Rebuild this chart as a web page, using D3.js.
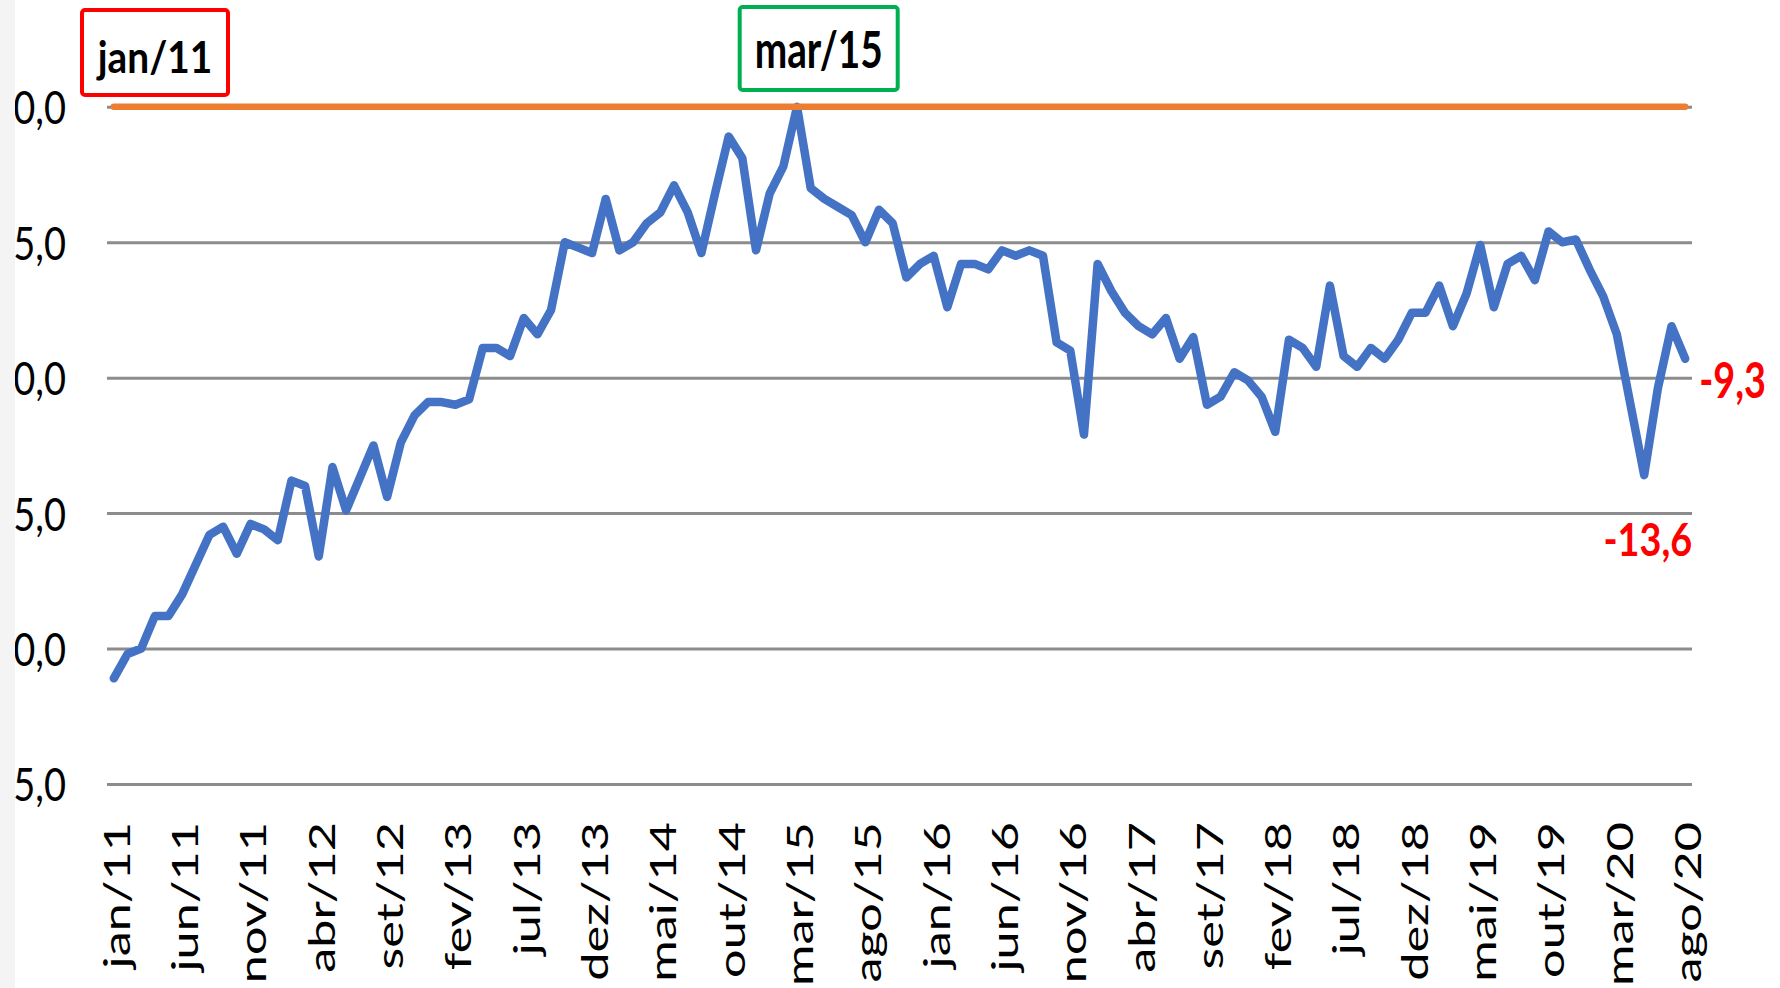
<!DOCTYPE html>
<html>
  <head>
    <meta charset="utf-8" />
    <script src="https://d3js.org/d3.v7.min.js"></script>
    <style>
      body { margin: 0; background: #ffffff; }
      svg { display: block; }
    </style>
  </head>

  <body>
    <svg width="1780" height="988"></svg>

    <script type="text/javascript">
      // month names and years used for the category axis
      var monthNames = ["jan", "fev", "mar", "abr", "mai", "jun", "jul", "ago", "set", "out", "nov", "dez"];
      var years = ["11", "12", "13", "14", "15", "16", "17", "18", "19", "20"];

      // series values, jan/11 .. ago/20
      var values = [
        -21.1, -20.2, -20.0, -18.8, -18.8, -18.0, -16.9, -15.8, -15.5, -16.5, -15.4, -15.6,
        -16.0, -13.8, -14.0, -16.6, -13.3, -14.9, -13.7, -12.5, -14.4, -12.4, -11.4, -10.9,
        -10.9, -11.0, -10.8, -8.9, -8.9, -9.2, -7.8, -8.4, -7.5, -5.0, -5.2, -5.4,
        -3.4, -5.3, -5.0, -4.3, -3.9, -2.9, -3.9, -5.4, -3.2, -1.1, -1.9, -5.3,
        -3.2, -2.2, 0.0, -3.0, -3.4, -3.7, -4.0, -5.0, -3.8, -4.3, -6.3, -5.8,
        -5.5, -7.4, -5.8, -5.8, -6.0, -5.3, -5.5, -5.3, -5.5, -8.7, -9.0, -12.1,
        -5.8, -6.8, -7.6, -8.1, -8.4, -7.8, -9.3, -8.5, -11.0, -10.7, -9.8, -10.1,
        -10.7, -12.0, -8.6, -8.9, -9.6, -6.6, -9.2, -9.6, -8.9, -9.3, -8.6, -7.6,
        -7.6, -6.6, -8.1, -6.9, -5.1, -7.4, -5.8, -5.5, -6.4, -4.6, -5.0, -4.9,
        -6.0, -7.0, -8.4, -11.0, -13.6, -10.4, -8.1, -9.3
      ];

      var refLevel = 0; // orange reference line

      var yTicks = [0, -5, -10, -15, -20, -25];
      var tickLabels = [
        "jan/11", "jun/11", "nov/11", "abr/12", "set/12", "fev/13", "jul/13", "dez/13",
        "mai/14", "out/14", "mar/15", "ago/15", "jan/16", "jun/16", "nov/16", "abr/17",
        "set/17", "fev/18", "jul/18", "dez/18", "mai/19", "out/19", "mar/20", "ago/20"
      ];
      var startLabel = "jan/11";
      var peakLabel = "mar/15";
      var troughFrom = "jan/20"; // red label marks the low of the last stretch

      var categories = [];
      years.forEach(function (yr) {
        monthNames.forEach(function (m) {
          if (categories.length < values.length) categories.push(m + "/" + yr);
        });
      });

      var ptBR = d3.formatLocale({
        decimal: ",",
        thousands: ".",
        grouping: [3],
        currency: ["R$", ""],
        minus: "-"
      });
      var fmt = ptBR.format(".1f");

      var svg = d3.select("svg");
      var font = "Lato, 'Open Sans', sans-serif";

      var plotLeft = 107, plotRight = 1692, plotTop = 106.8, plotBottom = 784;

      var x = d3.scalePoint().domain(categories).range([plotLeft, plotRight]).padding(0.5);
      var y = d3.scaleLinear().domain([-25, 0]).range([plotBottom, plotTop]);

      // clip for the y labels (picture is cut on the left)
      svg.append("clipPath")
        .attr("id", "cut")
        .append("rect")
        .attr("x", 15).attr("y", 0)
        .attr("width", 1765).attr("height", 988);

      // y axis + gridlines
      var yAxis = d3.axisLeft(y)
        .tickValues(yTicks)
        .tickSize(-(plotRight - plotLeft))
        .tickPadding(41)
        .tickFormat(fmt);

      var gy = svg.append("g")
        .attr("clip-path", "url(#cut)")
        .append("g")
        .attr("transform", "translate(" + plotLeft + ",0)")
        .call(yAxis);
      gy.select(".domain").remove();
      gy.selectAll(".tick line")
        .attr("stroke", "#8c8c8c")
        .attr("stroke-width", 3);
      gy.selectAll(".tick text")
        .attr("font-family", font)
        .attr("font-size", 38)
        .attr("fill", "#000")
        .attr("dy", "0.36em")
        .attr("transform", "scale(1,1.24)");

      // x axis labels
      var xAxis = d3.axisBottom(x).tickValues(tickLabels).tickSize(0);
      var gx = svg.append("g")
        .attr("transform", "translate(0," + plotBottom + ")")
        .call(xAxis);
      gx.select(".domain").remove();
      gx.selectAll(".tick text")
        .attr("font-family", font)
        .attr("font-size", 37.6)
        .attr("fill", "#000")
        .attr("text-anchor", "end")
        .attr("x", 0)
        .attr("y", 0)
        .attr("dy", "0.41em")
        .attr("transform", "translate(0,38) scale(1,1.34) rotate(-90)");

      // blue series
      var line = d3.line()
        .x(function (d, i) { return x(categories[i]); })
        .y(function (d) { return y(d); });

      svg.append("path")
        .datum(values)
        .attr("fill", "none")
        .attr("stroke", "#4472c4")
        .attr("stroke-width", 8.5)
        .attr("stroke-linejoin", "round")
        .attr("stroke-linecap", "round")
        .attr("d", line);

      // orange reference line
      svg.append("line")
        .attr("x1", x(categories[0]))
        .attr("x2", x(categories[categories.length - 1]))
        .attr("y1", y(refLevel))
        .attr("y2", y(refLevel))
        .attr("stroke", "#ed7d31")
        .attr("stroke-width", 6.5)
        .attr("stroke-linecap", "round");

      // boxed month notes
      function noteBox(label, bx, by, bw, bh, colour, sy) {
        var g = svg.append("g");
        g.append("rect")
          .attr("x", bx).attr("y", by)
          .attr("width", bw).attr("height", bh)
          .attr("rx", 3)
          .attr("fill", "#fff")
          .attr("stroke", colour)
          .attr("stroke-width", 4);
        g.append("text")
          .attr("transform", "translate(" + (bx + bw / 2) + "," + (by + bh - 22) + ") scale(1," + sy + ")")
          .attr("text-anchor", "middle")
          .attr("font-family", font)
          .attr("font-weight", "bold")
          .attr("font-size", 38.8)
          .attr("fill", "#000")
          .text(label);
      }
      noteBox(startLabel, 82, 10, 146, 85, "#ff0000", 1.15);
      noteBox(peakLabel, 739.7, 7, 158, 83, "#00b050", 1.33);

      // red value labels
      var lastIdx = values.length - 1;
      var fromIdx = categories.indexOf(troughFrom);
      var troughIdx = fromIdx + d3.minIndex(values.slice(fromIdx));
      var troughVal = values[troughIdx];
      var lastX = x(categories[lastIdx]);

      svg.append("text")
        .attr("transform", "translate(" + (lastX + 14) + "," + (y(values[lastIdx]) + 39) + ") scale(1,1.29)")
        .attr("font-family", font)
        .attr("font-weight", "bold")
        .attr("font-size", 37.8)
        .attr("fill", "#ff0000")
        .text(fmt(values[lastIdx]));

      svg.append("text")
        .attr("transform", "translate(" + (lastX + 7) + "," + (y(troughVal) + 81) + ") scale(1,1.22)")
        .attr("text-anchor", "end")
        .attr("font-family", font)
        .attr("font-weight", "bold")
        .attr("font-size", 37.8)
        .attr("fill", "#ff0000")
        .text(fmt(troughVal));

      // grey strip at the left edge
      svg.append("rect")
        .attr("x", 0).attr("y", 0)
        .attr("width", 15).attr("height", 988)
        .attr("fill", "#f4f4f4");
    </script>
  </body>
</html>
